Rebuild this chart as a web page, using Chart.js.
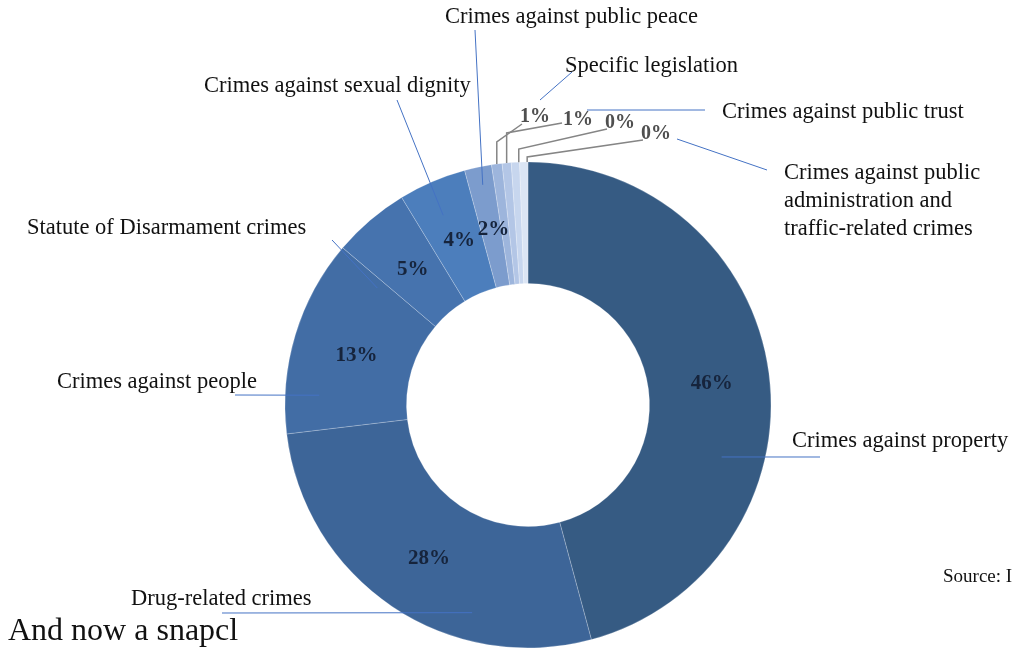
<!DOCTYPE html>
<html>
<head>
<meta charset="utf-8">
<script src="https://cdn.jsdelivr.net/npm/chart.js@4.4.0/dist/chart.umd.min.js"></script>
<style>
    html, body { margin: 0; padding: 0; background: #ffffff; }
    #grafico { display: block; }
</style>
</head>
<body>
<canvas id="grafico" width="1014" height="656"></canvas>
<script>
// Categorias no sentido horário, a partir do topo
const categorias = [
    "Crimes against property",
    "Drug-related crimes",
    "Crimes against people",
    "Statute of Disarmament crimes",
    "Crimes against sexual dignity",
    "Crimes against public peace",
    "Specific legislation",
    "Crimes against public trust",
    "Crimes against public administration",
    "Traffic-related crimes"
];
// Participação (%)
const valores = [45.8, 27.3, 13.1, 5.1, 4.5, 1.8, 0.7, 0.6, 0.55, 0.55];
// Rótulos de porcentagem como aparecem no original
const rotulosPct = ["46%", "28%", "13%", "5%", "4%", "2%", "1%", "1%", "0%", "0%"];
// Textos dos rótulos externos (o último junta duas categorias)
const textosRotulos = [
    ["Crimes against property"],
    ["Drug-related crimes"],
    ["Crimes against people"],
    ["Statute of Disarmament crimes"],
    ["Crimes against sexual dignity"],
    ["Crimes against public peace"],
    ["Specific legislation"],
    ["Crimes against public trust"],
    ["Crimes against public", "administration and", "traffic-related crimes"]
];
const cores = [
    "#365b83", "#3d6598", "#426da5", "#4673ae", "#4c7ebc",
    "#7c9ccd", "#9db5dc", "#b3c6e6", "#c7d6ee", "#dbe5f4"
];

// Layout dos rótulos externos: posição do texto e da linha guia
// ancora = [fatia, fração do ângulo, fração do raio]
const layoutRotulos = [
    { x: 792, y: 441, fim: [820, 457], ancora: [0, 0.637, 0.65] },
    { x: 131, y: 599, fim: [222, 613], ancora: [1, 0.307, 0.77] },
    { x: 57,  y: 382, fim: [235, 395], ancora: [2, 0.202, 0.72] },
    { x: 27,  y: 228, fim: [332, 240], ancora: [2, 0.947, 0.57] },
    { x: 204, y: 86,  fim: [397, 100], ancora: [4, 0.446, 0.71] },
    { x: 445, y: 17,  fim: [475, 30],  ancora: [5, 0.54, 0.85] },
    { x: 565, y: 66,  linha: [[540, 100], [572, 72]] },
    { x: 722, y: 112, linha: [[587, 110], [705, 110]] },
    { x: 784, y: 173, linha: [[677, 139], [767, 170]] }
];

// Rótulos de % das fatias pequenas, fora do anel, com linha em cotovelo
const layoutPctFora = [
    { i: 6, x: 535, y: 117, cotovelo: 142, fim: [522, 124], frac: 0.5 },
    { i: 7, x: 578, y: 120, cotovelo: 133, fim: [562, 123], frac: 0.5 },
    { i: 8, x: 620, y: 123, cotovelo: 149, fim: [607, 129], frac: 0.9 },
    { i: 9, x: 656, y: 134, cotovelo: 157, fim: [643, 140], frac: 0.9 }
];

function pontoNaFatia(arco, fracAng, fracRaio) {
    const a = arco.startAngle + fracAng * (arco.endAngle - arco.startAngle);
    const r = arco.innerRadius + fracRaio * (arco.outerRadius - arco.innerRadius);
    return { x: arco.x + r * Math.cos(a), y: arco.y + r * Math.sin(a) };
}

const pluginRotulos = {
    id: "rotulos",
    afterDatasetsDraw(chart) {
        const ctx = chart.ctx;
        const arcos = chart.getDatasetMeta(0).data;
        ctx.save();

        // linhas guia azuis
        ctx.strokeStyle = "#4472c4";
        ctx.lineWidth = 1;
        layoutRotulos.forEach((item) => {
            ctx.beginPath();
            if (item.ancora) {
                const p = pontoNaFatia(arcos[item.ancora[0]], item.ancora[1], item.ancora[2]);
                ctx.moveTo(p.x, p.y);
                ctx.lineTo(item.fim[0], item.fim[1]);
            } else {
                ctx.moveTo(item.linha[0][0], item.linha[0][1]);
                ctx.lineTo(item.linha[1][0], item.linha[1][1]);
            }
            ctx.stroke();
        });

        // linhas cinza das fatias pequenas
        ctx.strokeStyle = "#858585";
        ctx.lineWidth = 1.5;
        layoutPctFora.forEach((item) => {
            const p = pontoNaFatia(arcos[item.i], item.frac, 1);
            ctx.beginPath();
            ctx.moveTo(p.x, p.y);
            ctx.lineTo(p.x, item.cotovelo);
            ctx.lineTo(item.fim[0], item.fim[1]);
            ctx.stroke();
        });

        // % dentro das fatias
        ctx.font = "bold 21px 'Liberation Serif'";
        ctx.fillStyle = "#16243c";
        ctx.textAlign = "center";
        ctx.textBaseline = "middle";
        for (let i = 0; i < 6; i++) {
            const c = arcos[i].getCenterPoint();
            ctx.fillText(rotulosPct[i], c.x + 3, c.y + 3);
        }

        // % fora do anel
        ctx.font = "bold 20px 'Liberation Serif'";
        ctx.fillStyle = "#4f4f4f";
        layoutPctFora.forEach((item) => {
            ctx.fillText(rotulosPct[item.i], item.x, item.y);
        });

        // nomes das categorias
        ctx.font = "22.5px 'Liberation Serif'";
        ctx.fillStyle = "#111111";
        ctx.textAlign = "left";
        layoutRotulos.forEach((item, k) => {
            textosRotulos[k].forEach((linha, j) => {
                ctx.fillText(linha, item.x, item.y + j * 28);
            });
        });

        // textos da página em volta do gráfico
        ctx.font = "19px 'Liberation Serif'";
        ctx.fillText("Source: I", 943, 577);
        ctx.font = "32px 'Liberation Serif'";
        ctx.fillText("And now a snapcl", 8, 632);

        ctx.restore();
    }
};

new Chart(document.getElementById("grafico"), {
    type: "doughnut",
    data: {
        labels: categorias,
        datasets: [
            {
                data: valores,
                backgroundColor: cores,
                borderColor: "rgba(255, 255, 255, 0.22)",
                borderWidth: 1,
                hoverOffset: 0
            }
        ]
    },
    options: {
        responsive: false,
        animation: false,
        radius: 243,
        cutout: "50%",
        layout: {
            padding: { left: 42, right: 0, top: 154, bottom: 0 }
        },
        plugins: {
            legend: { display: false },
            tooltip: { enabled: false }
        }
    },
    plugins: [pluginRotulos]
});
</script>
</body>
</html>
